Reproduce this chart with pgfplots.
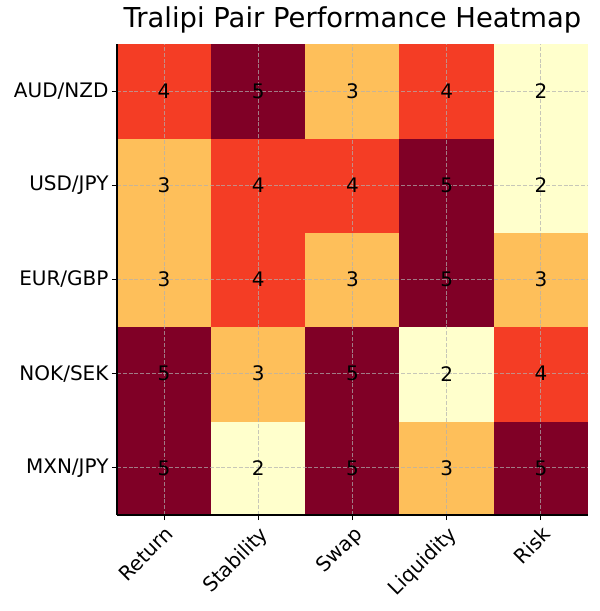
\documentclass[border=0pt]{standalone}
\usepackage{pgfplots}
\usepackage{pgfplotstable}
\pgfplotsset{compat=1.18}
\usepackage{fontspec}
\setmainfont{DejaVu Sans}

% scores, one row per pair; y=4 is the top row (AUD/NZD)
\pgfplotstableread{
x y c
0 0 5
1 0 2
2 0 5
3 0 3
4 0 5
0 1 5
1 1 3
2 1 5
3 1 2
4 1 4
0 2 3
1 2 4
2 2 3
3 2 5
4 2 3
0 3 3
1 3 4
2 3 4
3 3 5
4 3 2
0 4 4
1 4 5
2 4 3
3 4 4
4 4 2
}\scores

\definecolor{gridc}{RGB}{176,176,176}

\begin{document}
\begin{tikzpicture}
\useasboundingbox (-117pt,-96pt) rectangle (483pt,515pt);
\begin{axis}[
  at={(0,0)}, anchor=south west,
  scale only axis, width=471pt, height=471pt,
  xmin=-0.5, xmax=4.5, ymin=-0.5, ymax=4.5,
  axis lines=left, axis line style={-, line width=1.1pt},
  axis on top,
  colormap={ylorrd}{rgb255(0)=(255,255,204) rgb255(1)=(254,191,90) rgb255(2)=(244,61,37) rgb255(3)=(128,0,38)},
  point meta min=2, point meta max=5,
  xtick={0,1,2,3,4},
  xticklabels={Return,Stability,Swap,Liquidity,Risk},
  ytick={0,1,2,3,4},
  yticklabels={MXN/JPY,NOK/SEK,EUR/GBP,USD/JPY,AUD/NZD},
  tick align=outside, major tick length=5pt,
  tick style={black, line width=1.1pt},
  ticklabel style={font=\fontsize{20}{24}\selectfont},
  yticklabel style={anchor=east},
  xticklabel style={rotate=45, anchor=north east},
  grid=major,
  major grid style={draw=gridc, draw opacity=0.7, line width=1pt, dash pattern=on 4pt off 1.8pt},
  title={Tralipi Pair Performance Heatmap},
  title style={font=\fontsize{27.4}{32}\selectfont, anchor=base, at={(0.5,1)}, yshift=10.7pt},
]
\addplot[matrix plot*, mesh/cols=5, point meta=explicit] table[meta=c] {\scores};
\addplot[only marks, mark=none, nodes near coords, nodes near coords align=center,
  point meta=explicit symbolic,
  every node near coord/.append style={font=\fontsize{20}{24}\selectfont, black}]
  table[meta=c] {\scores};
\end{axis}
\end{tikzpicture}
\end{document}
